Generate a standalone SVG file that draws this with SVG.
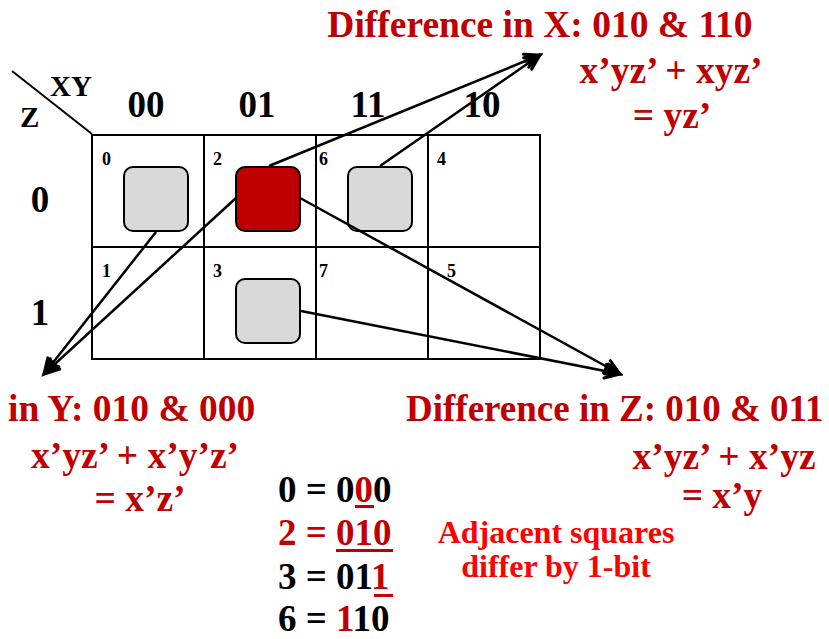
<svg xmlns="http://www.w3.org/2000/svg" width="829" height="639" viewBox="0 0 829 639">
<defs>
<style>
text{font-family:"Liberation Serif","Times New Roman",serif;font-weight:bold;}
.cell{fill:#fff;stroke:#000;stroke-width:2;}
.sq{fill:#d9d9d9;stroke:#000;stroke-width:2;}
.sqr{fill:#c00000;stroke:#000;stroke-width:2;}
.num{font-size:18px;fill:#000;}
.hdr{font-size:37px;fill:#000;}
.lbl{font-size:29px;fill:#000;}
.red{font-size:37.5px;fill:#c00000;}
.eq{font-size:37px;fill:#000;}
.adj{font-size:32px;fill:#ff0000;}
.conn{stroke:#000;stroke-width:2.5;fill:none;marker-end:url(#arr);}
.ul{fill:#c00000;}
</style>
<marker id="arr" markerUnits="userSpaceOnUse" markerWidth="24" markerHeight="20" viewBox="-18 -10 22 20" refX="0" refY="0" orient="auto">
<path d="M-15,-7 L0,0 L-15,7 M-15,-3 L0,0 L-15,3" stroke="#000" stroke-width="3" fill="none" stroke-linecap="round" stroke-linejoin="miter"/>
</marker>
</defs>
<rect width="829" height="639" fill="#fff"/>

<g id="headers">
<line x1="12" y1="71" x2="92" y2="134" stroke="#000" stroke-width="2"/>
<text class="lbl" x="50" y="96">XY</text>
<text class="lbl" x="20" y="127">Z</text>
<text class="hdr" x="146" y="117" text-anchor="middle">00</text>
<text class="hdr" x="257" y="117" text-anchor="middle">01</text>
<text class="hdr" x="368" y="117" text-anchor="middle">11</text>
<text class="hdr" x="482" y="117" text-anchor="middle">10</text>
<text class="hdr" x="40" y="212" text-anchor="middle">0</text>
<text class="hdr" x="40" y="325" text-anchor="middle">1</text>
</g>

<g id="cell0"><rect class="cell" x="92" y="135" width="112" height="112"/><text class="num" x="102" y="165">0</text><rect class="sq" x="124" y="167" width="64" height="64" rx="9"/></g>
<g id="cell2"><rect class="cell" x="204" y="135" width="112" height="112"/><text class="num" x="213" y="165">2</text><rect class="sqr" x="236" y="167" width="64" height="64" rx="9"/></g>
<g id="cell6"><rect class="cell" x="316" y="135" width="112" height="112"/><text class="num" x="319" y="165">6</text><rect class="sq" x="348" y="167" width="64" height="64" rx="9"/></g>
<g id="cell4"><rect class="cell" x="428" y="135" width="112" height="112"/><text class="num" x="437" y="165">4</text></g>
<g id="cell1"><rect class="cell" x="92" y="247" width="112" height="112"/><text class="num" x="102" y="277">1</text></g>
<g id="cell3"><rect class="cell" x="204" y="247" width="112" height="112"/><text class="num" x="213" y="277">3</text><rect class="sq" x="236" y="279" width="64" height="64" rx="9"/></g>
<g id="cell7"><rect class="cell" x="316" y="247" width="112" height="112"/><text class="num" x="319" y="277">7</text></g>
<g id="cell5"><rect class="cell" x="428" y="247" width="112" height="112"/><text class="num" x="447" y="277">5</text></g>

<g id="connectors">
<line class="conn" x1="156" y1="232" x2="44" y2="374"/>
<line class="conn" x1="236" y1="198" x2="44" y2="374"/>
<line class="conn" x1="269" y1="166" x2="540" y2="55"/>
<line class="conn" x1="380" y1="166" x2="540" y2="55"/>
<line class="conn" x1="300" y1="198" x2="620" y2="374"/>
<line class="conn" x1="301" y1="311" x2="620" y2="374"/>
</g>

<g id="diffX">
<text class="red" x="540" y="37" text-anchor="middle">Difference in X: 010 &amp; 110</text>
<text class="red" x="671" y="83" text-anchor="middle">x’yz’ + xyz’</text>
<text class="red" x="672" y="128" text-anchor="middle">= yz’</text>
</g>

<g id="diffY">
<text class="red" x="8" y="421">in Y: 010 &amp; 000</text>
<text class="red" x="135" y="468" text-anchor="middle">x’yz’ + x’y’z’</text>
<text class="red" x="140" y="511" text-anchor="middle">= x’z’</text>
</g>

<g id="diffZ">
<text class="red" x="406" y="421" style="font-size:37px">Difference in Z: 010 &amp; 011</text>
<text class="red" x="724" y="469" text-anchor="middle">x’yz’ + x’yz</text>
<text class="red" x="722" y="508" text-anchor="middle">= x’y</text>
</g>

<g id="codes">
<text class="eq" x="278" y="502">0 = 0<tspan fill="#c00000">0</tspan>0</text>
<rect class="ul" x="355" y="505" width="19" height="3"/>
<text class="eq" x="278" y="545" style="fill:#c00000">2 = 010</text>
<rect class="ul" x="336" y="549" width="57" height="3"/>
<text class="eq" x="278" y="589">3 = 01<tspan fill="#c00000">1</tspan></text>
<rect class="ul" x="374" y="594" width="19" height="3"/>
<text class="eq" x="278" y="631">6 = <tspan fill="#c00000">1</tspan>10</text>
</g>

<g id="note">
<text class="adj" x="556" y="543" text-anchor="middle">Adjacent squares</text>
<text class="adj" x="556" y="577" text-anchor="middle">differ by 1-bit</text>
</g>
</svg>
